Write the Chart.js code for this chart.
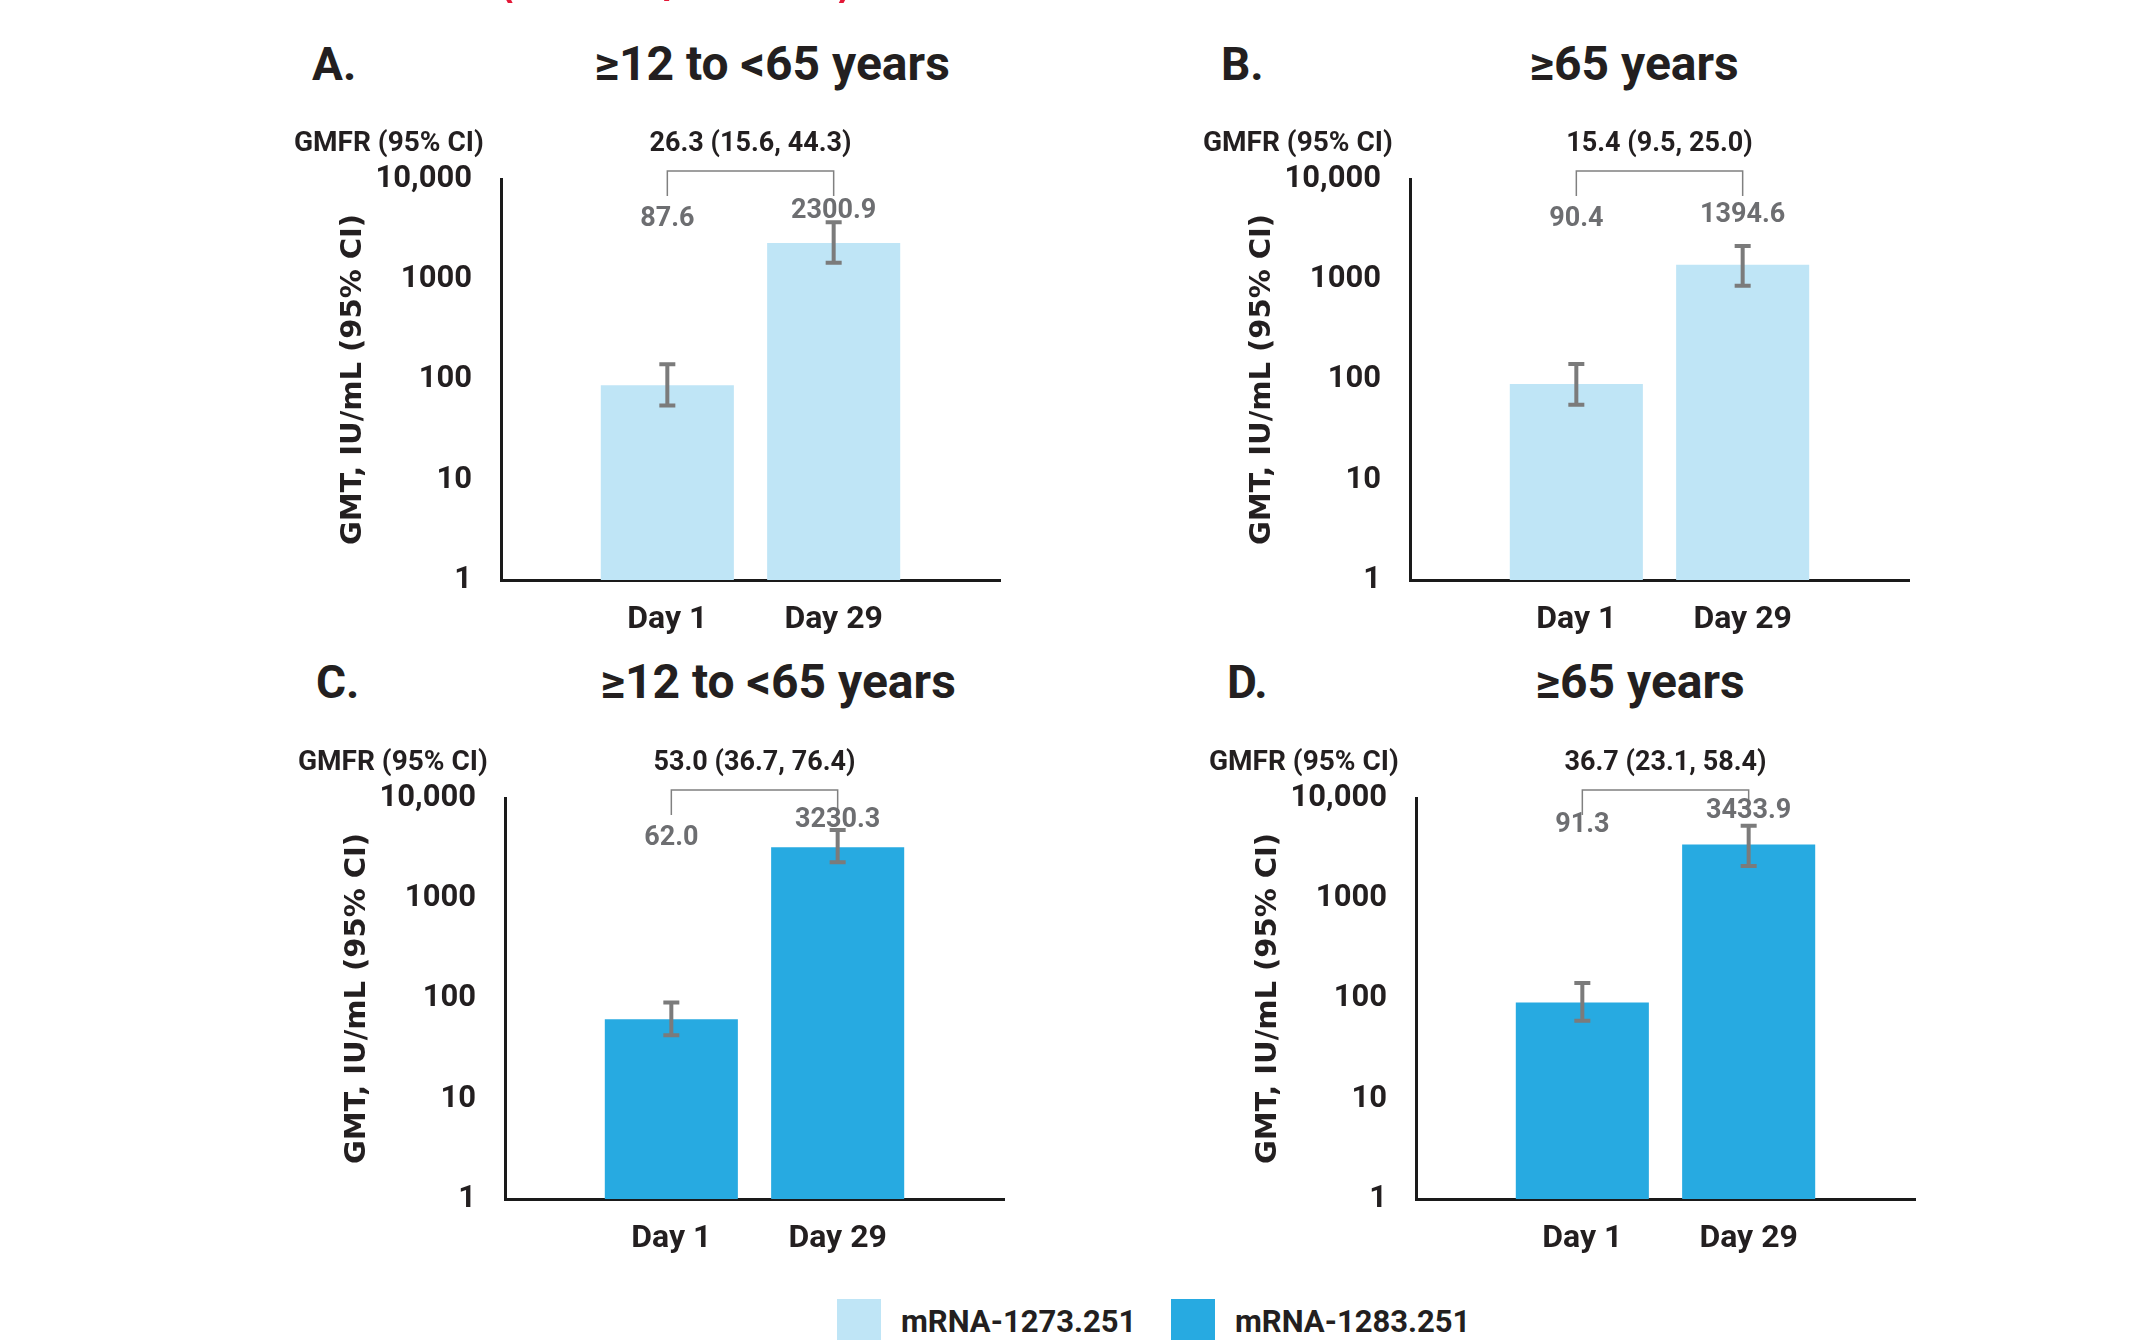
<!DOCTYPE html>
<html>
<head>
<meta charset="utf-8">
<script src="https://cdn.jsdelivr.net/npm/chart.js@4.4.0/dist/chart.umd.min.js"></script>
<style>
  html, body { margin: 0; padding: 0; background: #fff; }
  body { width: 2147px; height: 1340px; position: relative; overflow: hidden;
         font-family: Roboto, 'DejaVu Sans Condensed', sans-serif; font-weight: 700; color: #231f20; }
  canvas { position: absolute; }
  .txt { position: absolute; white-space: nowrap; line-height: 1; }
  .letter { font-size: 46px; }
  .title { font-size: 48px; transform: translateX(-50%); }
  .red { color: #e31837; font-size: 60px; font-weight: 400; font-family: 'DejaVu Sans', sans-serif; }
  .legend { position: absolute; top: 1301px; height: 40px; display: flex; align-items: center; font-size: 31px; }
  .legend span.sw { display: inline-block; width: 44px; height: 44px; margin-right: 20px; }
</style>
</head>
<body>
<div class="txt red" style="left:494px; top:-56px;">(</div>
<div class="txt red" style="left:664px; top:-56px;">/</div>
<div class="txt red" style="left:834px; top:-56px;">)</div>

<div class="txt letter" style="left:312px; top:41px;">A.</div>
<div class="txt title" style="left:772px; top:40px;">≥12 to &lt;65 years</div>
<div class="txt letter" style="left:1221px; top:41px;">B.</div>
<div class="txt title" style="left:1634px; top:40px;">≥65 years</div>
<div class="txt letter" style="left:316px; top:659px;">C.</div>
<div class="txt title" style="left:778px; top:658px;">≥12 to &lt;65 years</div>
<div class="txt letter" style="left:1227px; top:659px;">D.</div>
<div class="txt title" style="left:1640px; top:658px;">≥65 years</div>

<canvas id="chartA" width="750" height="622" style="left:271px; top:29px;"></canvas>
<canvas id="chartB" width="750" height="622" style="left:1180px; top:29px;"></canvas>
<canvas id="chartC" width="750" height="622" style="left:275px; top:648px;"></canvas>
<canvas id="chartD" width="750" height="622" style="left:1186px; top:648px;"></canvas>

<div class="legend" style="left:837px;"><span class="sw" style="background:#bfe5f6"></span>mRNA-1273.251</div>
<div class="legend" style="left:1171px;"><span class="sw" style="background:#27aae1"></span>mRNA-1283.251</div>

<script>
// data
const categories = ['', 'Day 1', 'Day 29', ''];
const yTicks = [1, 10, 100, 1000, 10000];
const yTickLabels = ['1', '10', '100', '1000', '10,000'];

const gmtA = [87.6, 2300.9];
const lowA = [55, 1460];
const highA = [142, 3700];
const gmfrA = '26.3 (15.6, 44.3)';

const gmtB = [90.4, 1394.6];
const lowB = [56, 860];
const highB = [143, 2150];
const gmfrB = '15.4 (9.5, 25.0)';

const gmtC = [62.0, 3230.3];
const lowC = [43, 2280];
const highC = [91, 4800];
const gmfrC = '53.0 (36.7, 76.4)';

const gmtD = [91.3, 3433.9];
const lowD = [60, 2100];
const highD = [143, 5300];
const gmfrD = '36.7 (23.1, 58.4)';

const COLORS = { light: '#bfe5f6', dark: '#27aae1', err: '#7b7b7b', text: '#231f20', label: '#6d6e71' };
const FONT = "Roboto, 'DejaVu Sans Condensed', sans-serif";

// error bars, value labels and the GMFR bracket
const annotationsPlugin = {
  id: 'gmtAnnotations',
  afterDatasetsDraw(chart, args, opts) {
    const { ctx, chartArea } = chart;
    const y = chart.scales.y;
    const bars = chart.getDatasetMeta(0).data;
    const xs = [bars[1].x, bars[2].x];
    ctx.save();

    // CI whiskers
    ctx.strokeStyle = COLORS.err;
    ctx.lineWidth = 4;
    xs.forEach((x, i) => {
      const yl = y.getPixelForValue(opts.low[i]);
      const yh = y.getPixelForValue(opts.high[i]);
      ctx.beginPath();
      ctx.moveTo(x, yl); ctx.lineTo(x, yh);
      ctx.moveTo(x - 8, yl); ctx.lineTo(x + 8, yl);
      ctx.moveTo(x - 8, yh); ctx.lineTo(x + 8, yh);
      ctx.stroke();
    });

    // bracket
    ctx.strokeStyle = '#808080';
    ctx.lineWidth = 1.5;
    const by = chartArea.top - 8;
    ctx.beginPath();
    ctx.moveTo(xs[0], chartArea.top + 17); ctx.lineTo(xs[0], by);
    ctx.lineTo(xs[1], by); ctx.lineTo(xs[1], chartArea.top + 17);
    ctx.stroke();

    // GMT value labels
    ctx.font = `700 27px ${FONT}`;
    ctx.fillStyle = COLORS.label;
    ctx.textAlign = 'center';
    ctx.textBaseline = 'middle';
    xs.forEach((x, i) => {
      ctx.fillText(opts.gmt[i].toFixed(1), x, chartArea.top + opts.labelOffset[i]);
    });

    // GMFR
    ctx.fillStyle = COLORS.text;
    ctx.font = `700 27px ${FONT}`;
    ctx.fillText(opts.gmfr, (xs[0] + xs[1]) / 2, chartArea.top - 35);
    ctx.font = `700 28px ${FONT}`;
    ctx.textAlign = 'left';
    ctx.fillText('GMFR (95% CI)', chartArea.left - 207, chartArea.top - 35);
    ctx.restore();
  }
};

function makePanel(id, gmt, low, high, gmfr, color, labelOffset) {
  return new Chart(document.getElementById(id), {
    type: 'bar',
    data: {
      labels: categories,
      datasets: [{
        data: [null, gmt[0], gmt[1], null],
        backgroundColor: color,
        borderWidth: 0,
        categoryPercentage: 0.8,
        barPercentage: 1.0,
      }],
    },
    plugins: [annotationsPlugin],
    options: {
      responsive: false,
      devicePixelRatio: 1,
      animation: false,
      layout: { padding: { left: 60, top: 150, right: 20, bottom: 11 } },
      plugins: {
        legend: { display: false },
        tooltip: { enabled: false },
        gmtAnnotations: { gmt, low, high, gmfr, labelOffset },
      },
      scales: {
        x: {
          type: 'category',
          offset: false,
          z: 1,
          grid: { display: false, drawTicks: false },
          border: { display: true, color: '#1a1a1a', width: 3 },
          ticks: { color: COLORS.text, font: { family: FONT, size: 32, weight: '700' }, padding: 21, maxRotation: 0, autoSkip: false },
          afterFit(scale) { scale.height = 60; },
        },
        y: {
          type: 'logarithmic',
          min: 1,
          max: 10000,
          grid: { display: false, drawTicks: false },
          border: { display: true, color: '#1a1a1a', width: 3 },
          ticks: {
            color: COLORS.text, padding: 29,
            font: { family: FONT, size: 31, weight: '700' },
            callback: (v, i) => yTickLabels[i],
          },
          afterBuildTicks(scale) { scale.ticks = yTicks.map(v => ({ value: v })); },
          title: {
            display: true,
            text: 'GMT, IU/mL (95% CI)',
            color: COLORS.text,
            font: { family: "'DejaVu Sans', sans-serif", size: 29, weight: '700' },
            padding: { top: 5, bottom: 0 },
          },
          afterFit(scale) { scale.width = 170; },
        },
      },
    },
  });
}

makePanel('chartA', gmtA, lowA, highA, gmfrA, COLORS.light, [40, 32]);
makePanel('chartB', gmtB, lowB, highB, gmfrB, COLORS.light, [40, 36]);
makePanel('chartC', gmtC, lowC, highC, gmfrC, COLORS.dark, [40, 22]);
makePanel('chartD', gmtD, lowD, highD, gmfrD, COLORS.dark, [27, 13]);
</script>
</body>
</html>
